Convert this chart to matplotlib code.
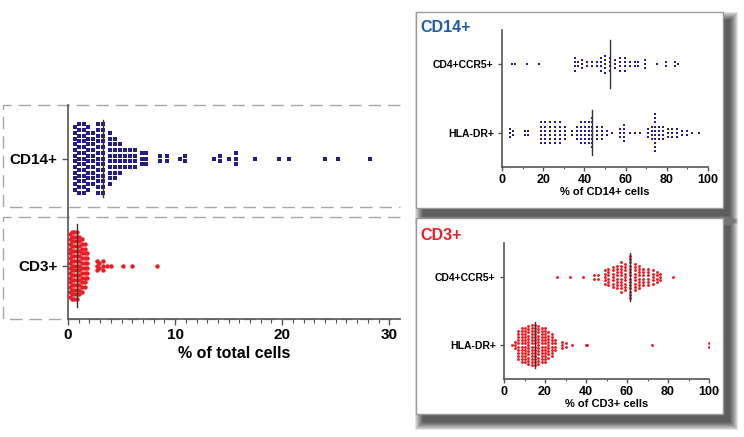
import numpy as np
import matplotlib
matplotlib.use("Agg")
import matplotlib.pyplot as plt
from matplotlib.patches import Rectangle

plt.rcParams['font.family'] = ['Liberation Sans', 'DejaVu Sans']
plt.rcParams['font.weight'] = 'bold'

# ---- данные (значение, число точек с этим значением) ----
# левая панель: % of total cells
cd14_total_vals = [0.65, 1.0, 1.5, 1.9, 2.3, 2.8, 3.3, 3.9, 4.4, 4.9, 5.3, 5.8, 6.3, 6.9,
                   7.3, 8.6, 9.2, 10.5, 10.9, 13.6, 14.2, 15.0, 15.7, 17.5, 19.7, 20.6,
                   24.0, 25.2, 28.2]
cd14_total_n = [12, 13, 13, 12, 10, 13, 13, 10, 8, 6, 4, 4, 4, 3,
                3, 2, 2, 1, 2, 1, 2, 1, 3, 1, 1, 1,
                1, 1, 1]
cd3_total_vals = [0.2, 0.4, 0.6, 0.8, 1.05, 1.3, 1.55, 1.8, 2.7, 2.9, 3.3, 3.6, 4.0,
                  5.1, 6.0, 8.3]
cd3_total_n = [14, 15, 15, 15, 13, 12, 10, 6, 3, 2, 3, 1, 1,
               1, 1, 1]

# вставка CD14+: % of CD14+ cells
cd14_ccr5_vals = [4.7, 6.3, 12.3, 18.1, 35.4, 37, 39, 41.1, 43.5, 46, 48, 50, 52.4,
                  54.9, 57.3, 59.7, 62.1, 64.6, 66.2, 69.4, 75.4, 79.5, 84, 85.3]
cd14_ccr5_n = [1, 1, 1, 1, 4, 2, 3, 2, 2, 2, 4, 5, 4,
               3, 4, 4, 2, 2, 2, 3, 1, 2, 2, 1]
cd14_hla_vals = [3.9, 5.5, 11.2, 12.8, 18.8, 20.9, 23.3, 25.7, 28.2, 30.6, 33.8, 36.3,
                 38.3, 40.3, 42.2, 43.9, 46, 48.4, 50.8, 53.2, 57.3, 59.4, 62.1, 64.6,
                 67, 71, 72.7, 74.3, 76.2, 78.3, 80.4, 82.4, 84.8, 87.2, 89.7, 92.1, 95.6]
cd14_hla_n = [3, 2, 2, 2, 6, 6, 6, 6, 6, 4, 2, 4,
              6, 6, 6, 8, 4, 4, 2, 1, 3, 5, 1, 1,
              1, 3, 4, 10, 4, 4, 3, 3, 3, 2, 2, 1, 1]

# вставка CD3+: % of CD3+ cells
cd3_ccr5_vals = [26, 32.2, 38.7, 44, 46, 49.3, 50.9, 53.3, 55.3, 56.9, 59, 61.5, 63.9,
                 66, 68, 70.4, 72.5, 74.5, 76.1, 82.3]
cd3_ccr5_n = [1, 1, 1, 2, 2, 5, 6, 7, 8, 10, 9, 14, 9,
              8, 6, 6, 5, 4, 3, 1]
cd3_hla_vals = [3.7, 5.4, 7, 8.6, 10.2, 11.9, 13.5, 15.1, 16.7, 18.4, 20, 21.6, 23.3,
                24.9, 28.1, 30.1, 33, 40, 40.6, 72, 100]
cd3_hla_n = [1, 3, 10, 12, 12, 13, 14, 14, 13, 12, 12, 9, 8,
             4, 3, 2, 1, 1, 1, 1, 2]

NAVY = '#231d86'
RED = '#ec1c24'
W, H = 744, 437


def add_px_axes(fig, x0, y0, x1, y1):
    """Оси по пиксельным координатам картинки (y вниз)."""
    return fig.add_axes([x0 / W, 1 - y1 / H, (x1 - x0) / W, (y1 - y0) / H])


def swarm(ax, vals, counts, yc, dy, half, **kw):
    """Столбики точек с одинаковым значением + линия медианы."""
    xs, ys = [], []
    for v, n in zip(vals, counts):
        off = (np.arange(n) - (n - 1) / 2) * dy
        xs += [v] * n
        ys += list(yc + off)
    ax.plot(xs, ys, linestyle='none', **kw)
    m = np.median(np.repeat(vals, counts))
    ax.plot([m, m], [yc - half, yc + half], color='#333333', lw=1.0, zorder=3)


def style_axes(ax, labelsize, ylabelsize, ticklen):
    for s in ['top', 'right']:
        ax.spines[s].set_visible(False)
    for s in ['left', 'bottom']:
        ax.spines[s].set_color('#555555')
        ax.spines[s].set_linewidth(1.2)
    ax.patch.set_visible(False)
    ax.tick_params(axis='x', which='major', direction='out', length=ticklen,
                   width=1, color='#555555', labelsize=labelsize, pad=2)
    ax.tick_params(axis='x', which='minor', direction='out', length=ticklen * 0.6,
                   width=0.8, color='#555555')
    ax.tick_params(axis='y', direction='out', length=ticklen, width=1,
                   color='#555555', labelsize=ylabelsize, pad=3)


fig = plt.figure(figsize=(W / 100, H / 100), dpi=100)

# фон: панели-вставки с тенью
bg = fig.add_axes([0, 0, 1, 1])
bg.set_xlim(0, W)
bg.set_ylim(H, 0)
bg.axis('off')
panels = [(416, 12, 723, 208), (416, 218, 723, 414)]
for x0, y0, x1, y1 in panels:
    for r in range(8, -1, -1):
        bg.add_patch(Rectangle((x0 + 7 - r, y0 + 8 - r), x1 - x0 + 2 * r, y1 - y0 + 2 * r,
                               facecolor='black', edgecolor='none', alpha=0.1))
for x0, y0, x1, y1 in panels:
    bg.add_patch(Rectangle((x0, y0), x1 - x0, y1 - y0, facecolor='white',
                           edgecolor='#9a9a9a', lw=1))
bg.text(420, 27, 'CD14+', color='#1f5ca8', fontsize=11.5, fontweight='bold', va='center')
bg.text(420, 236, 'CD3+', color=RED, fontsize=11.5, fontweight='bold', va='center')

# ---- левая панель ----
ax = add_px_axes(fig, 68, 105, 400, 319)
ax.set_xlim(0, 31)
ax.set_ylim(0, 2)
swarm(ax, cd14_total_vals, cd14_total_n, 1.5, 0.053, 0.36,
      marker='s', markersize=2.4, color=NAVY, markeredgewidth=0)
swarm(ax, cd3_total_vals, cd3_total_n, 0.5, 0.045, 0.39,
      marker='o', markersize=3.2, color=RED, markeredgewidth=0)
ax.set_xticks([0, 10, 20, 30])
ax.set_xticks(np.arange(0, 31, 1), minor=True)
ax.set_yticks([0.5, 1.5])
ax.set_yticklabels(['CD3+', 'CD14+'])
style_axes(ax, 11, 11, 4.5)
ax.set_xlabel('% of total cells', fontsize=11.5, fontweight='bold', labelpad=3)
# пунктирные рамки вокруг групп
for yb, yt in [(1.047, 2.0), (0.0, 0.953)]:
    ax.plot([31, -6.1, -6.1, 31], [yt, yt, yb, yb], color='#a8a8a8', lw=1,
            linestyle=(0, (9, 5)), clip_on=False, zorder=0)

# ---- вставка CD14+ ----
ax1 = add_px_axes(fig, 502, 30, 708, 167)
ax1.set_xlim(0, 100)
ax1.set_ylim(0, 2)
swarm(ax1, cd14_ccr5_vals, cd14_ccr5_n, 1.5, 0.062, 0.35,
      marker='s', markersize=1.8, color=NAVY, markeredgewidth=0)
swarm(ax1, cd14_hla_vals, cd14_hla_n, 0.5, 0.06, 0.33,
      marker='s', markersize=1.8, color=NAVY, markeredgewidth=0)
ax1.set_xticks(np.arange(0, 101, 20))
ax1.set_xticks(np.arange(0, 101, 10), minor=True)
ax1.set_yticks([0.5, 1.5])
ax1.set_yticklabels(['HLA-DR+', 'CD4+CCR5+'])
style_axes(ax1, 9, 7.5, 3)
ax1.set_xlabel('% of CD14+ cells', fontsize=8, fontweight='bold', labelpad=1)

# ---- вставка CD3+ ----
ax2 = add_px_axes(fig, 504, 243, 709, 379)
ax2.set_xlim(0, 100)
ax2.set_ylim(0, 2)
swarm(ax2, cd3_ccr5_vals, cd3_ccr5_n, 1.5, 0.048, 0.35,
      marker='o', markersize=2.1, color=RED, markeredgewidth=0)
swarm(ax2, cd3_hla_vals, cd3_hla_n, 0.5, 0.046, 0.34,
      marker='o', markersize=2.1, color=RED, markeredgewidth=0)
ax2.set_xticks(np.arange(0, 101, 20))
ax2.set_xticks(np.arange(0, 101, 10), minor=True)
ax2.set_yticks([0.5, 1.5])
ax2.set_yticklabels(['HLA-DR+', 'CD4+CCR5+'])
style_axes(ax2, 9, 7.5, 3)
ax2.set_xlabel('% of CD3+ cells', fontsize=8, fontweight='bold', labelpad=1)

fig.savefig('out.png', dpi=100)
